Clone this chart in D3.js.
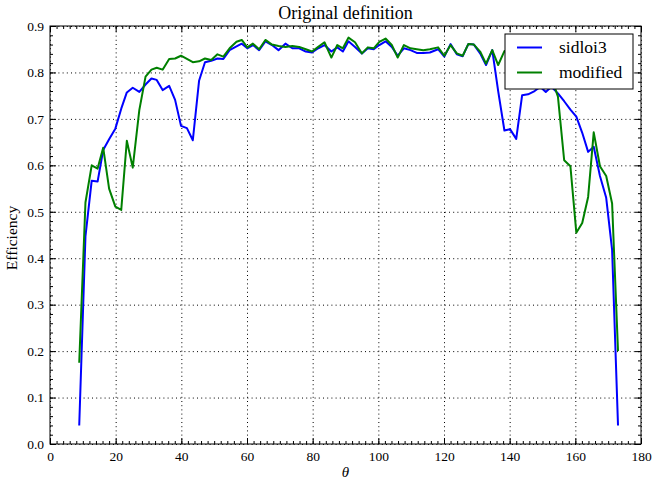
<!DOCTYPE html>
<html>
<head>
<meta charset="utf-8">
<script src="https://cdn.jsdelivr.net/npm/d3@7"></script>
<style>
  body { margin: 0; background: #fff; }
  text { font-family: "Liberation Serif", "DejaVu Serif", serif; fill: #000; }
  .grid line { stroke: #000; stroke-width: 1; stroke-dasharray: 1, 3.2; }
  .grid .domain { display: none; }
  .ejes .domain { display: none; }
  .ejes line { stroke: #000; }
</style>
</head>
<body>
<div id="graf"></div>
<script>
// datos
const theta = [8.9, 10.8, 12.7, 14.5, 16.2, 18.0, 19.9, 21.7, 23.4, 25.2,
  27.2, 29.1, 30.9, 32.5, 34.3, 36.3, 38.1, 39.9, 41.7, 43.5,
  45.4, 47.2, 49.1, 51.0, 52.8, 54.7, 56.8, 58.4, 60.1, 61.8,
  63.7, 65.6, 67.6, 69.6, 71.7, 73.8, 75.9, 77.9, 79.8, 81.7,
  83.6, 85.7, 87.5, 89.2, 90.9, 92.9, 95.0, 96.8, 98.6, 100.3,
  102.2, 104.1, 105.9, 107.8, 109.8, 111.7, 113.7, 115.7, 118.2, 120.1,
  122.0, 123.9, 125.7, 127.4, 129.1, 131.0, 132.8, 134.7, 136.5, 138.4,
  140.1, 142.0, 143.8, 145.6, 147.6, 149.3, 151.0, 152.7, 154.7, 156.6,
  158.5, 160.3, 162.1, 163.9, 165.6, 167.5, 169.4, 171.2, 173.0]

const sidloi3 = [0.04, 0.447, 0.567, 0.565, 0.633, 0.656, 0.679, 0.722, 0.757, 0.767,
  0.758, 0.774, 0.787, 0.784, 0.762, 0.771, 0.741, 0.685, 0.680, 0.654,
  0.782, 0.822, 0.825, 0.830, 0.829, 0.848, 0.856, 0.862, 0.852, 0.859,
  0.848, 0.867, 0.859, 0.848, 0.862, 0.852, 0.852, 0.845, 0.843, 0.852,
  0.859, 0.845, 0.854, 0.845, 0.867, 0.855, 0.841, 0.852, 0.850, 0.859,
  0.867, 0.855, 0.836, 0.852, 0.848, 0.842, 0.842, 0.843, 0.850, 0.834,
  0.861, 0.839, 0.835, 0.861, 0.860, 0.841, 0.816, 0.848, 0.760, 0.675,
  0.678, 0.657, 0.751, 0.753, 0.760, 0.769, 0.758, 0.769, 0.755, 0.738,
  0.720, 0.705, 0.670, 0.629, 0.640, 0.577, 0.530, 0.418, 0.04]

const modified = [0.175, 0.52, 0.600, 0.593, 0.638, 0.550, 0.511, 0.504, 0.653, 0.595,
  0.719, 0.791, 0.806, 0.810, 0.806, 0.829, 0.830, 0.836, 0.829, 0.822,
  0.824, 0.830, 0.827, 0.839, 0.834, 0.852, 0.866, 0.870, 0.854, 0.862,
  0.850, 0.870, 0.860, 0.857, 0.855, 0.857, 0.855, 0.850, 0.845, 0.855,
  0.865, 0.832, 0.859, 0.852, 0.875, 0.865, 0.841, 0.854, 0.852, 0.866,
  0.873, 0.859, 0.832, 0.859, 0.852, 0.850, 0.848, 0.850, 0.854, 0.836,
  0.859, 0.841, 0.836, 0.861, 0.860, 0.845, 0.819, 0.848, 0.816, 0.846,
  0.845, 0.850, 0.840, 0.845, 0.830, 0.815, 0.800, 0.790, 0.748, 0.611,
  0.598, 0.455, 0.476, 0.532, 0.671, 0.598, 0.577, 0.518, 0.20]

const series = ["sidloi3", "modified"]
const colores = ["#0000ff", "#008000"]
const xTicks = [0, 20, 40, 60, 80, 100, 120, 140, 160, 180]
const yTicks = [0.0, 0.1, 0.2, 0.3, 0.4, 0.5, 0.6, 0.7, 0.8, 0.9]

// dimensiones
const anchoTotal = 653
const altoTotal = 480
const margins = { left: 50, top: 26, right: 12, bottom: 36 }
const ancho = anchoTotal - margins.left - margins.right
const alto = altoTotal - margins.top - margins.bottom

const svg = d3.select("#graf")
  .append("svg")
  .attr("width", anchoTotal)
  .attr("height", altoTotal)

const g = svg.append("g")
  .attr("transform", `translate(${margins.left}, ${margins.top})`)

g.append("clipPath")
  .attr("id", "clip")
  .append("rect")
  .attr("width", ancho)
  .attr("height", alto)

const x = d3.scaleLinear().domain([0, 180]).range([0, ancho])
const y = d3.scaleLinear().domain([0, 0.9]).range([alto, 0])
const color = d3.scaleOrdinal().domain(series).range(colores)

// rejilla punteada
g.append("g")
  .attr("class", "grid")
  .attr("transform", `translate(0, ${alto})`)
  .call(d3.axisBottom(x).tickValues(xTicks).tickSize(-alto).tickFormat(""))
g.append("g")
  .attr("class", "grid")
  .call(d3.axisLeft(y).tickValues(yTicks).tickSize(-ancho).tickFormat(""))

// lineas
const linea = (vals) => d3.line()
  .x((d, i) => x(theta[i]))
  .y((d) => y(d))(vals)

const datos = [sidloi3, modified]
g.selectAll("path.serie")
  .data(datos)
  .enter()
  .append("path")
  .attr("class", "serie")
  .attr("d", (d) => linea(d))
  .attr("fill", "none")
  .attr("stroke", (d, i) => color(series[i]))
  .attr("stroke-width", 2)
  .attr("stroke-linejoin", "round")
  .attr("clip-path", "url(#clip)")

// ejes con ticks hacia adentro
const xMinor = d3.range(0, 181, 2)
const yMinor = d3.range(0, 0.9001, 0.02)

g.append("g").attr("class", "ejes")
  .attr("transform", `translate(0, ${alto})`)
  .call(d3.axisBottom(x).tickValues(xMinor).tickSizeInner(-3).tickFormat(""))
g.append("g").attr("class", "ejes")
  .call(d3.axisTop(x).tickValues(xMinor).tickSizeInner(-3).tickFormat(""))
g.append("g").attr("class", "ejes")
  .call(d3.axisLeft(y).tickValues(yMinor).tickSizeInner(-3).tickFormat(""))
g.append("g").attr("class", "ejes")
  .attr("transform", `translate(${ancho}, 0)`)
  .call(d3.axisRight(y).tickValues(yMinor).tickSizeInner(-3).tickFormat(""))

g.append("g").attr("class", "ejes")
  .attr("transform", `translate(0, ${alto})`)
  .call(d3.axisBottom(x).tickValues(xTicks).tickSizeInner(-6).tickPadding(7).tickFormat(d3.format("d")))
  .selectAll("text").style("font-size", "13.5px")
g.append("g").attr("class", "ejes")
  .call(d3.axisTop(x).tickValues(xTicks).tickSizeInner(-6).tickFormat(""))
g.append("g").attr("class", "ejes")
  .call(d3.axisLeft(y).tickValues(yTicks).tickSizeInner(-6).tickPadding(6).tickFormat(d3.format(".1f")))
  .selectAll("text").style("font-size", "13.5px")
g.append("g").attr("class", "ejes")
  .attr("transform", `translate(${ancho}, 0)`)
  .call(d3.axisRight(y).tickValues(yTicks).tickSizeInner(-6).tickFormat(""))

// marco
g.append("rect")
  .attr("width", ancho)
  .attr("height", alto)
  .attr("fill", "none")
  .attr("stroke", "#000")
  .attr("stroke-width", 1)

// textos
g.append("text")
  .attr("x", ancho / 2)
  .attr("y", -7)
  .attr("text-anchor", "middle")
  .style("font-size", "18px")
  .text("Original definition")

g.append("text")
  .attr("x", ancho / 2)
  .attr("y", alto + 33)
  .attr("text-anchor", "middle")
  .style("font-size", "15px")
  .style("font-style", "italic")
  .text("θ")

g.append("text")
  .attr("transform", `translate(-33, ${alto / 2 + 3}) rotate(-90)`)
  .attr("text-anchor", "middle")
  .style("font-size", "15.5px")
  .text("Efficiency")

// leyenda
const leyenda = g.append("g")
  .attr("transform", `translate(${ancho - 136}, 8)`)

leyenda.append("rect")
  .attr("width", 128)
  .attr("height", 55)
  .attr("fill", "#fff")
  .attr("stroke", "#000")
  .attr("stroke-width", 1)

series.forEach((s, i) => {
  leyenda.append("line")
    .attr("x1", 12).attr("x2", 37)
    .attr("y1", 13.5 + i * 25).attr("y2", 13.5 + i * 25)
    .attr("stroke", color(s))
    .attr("stroke-width", 2)
  leyenda.append("text")
    .attr("x", 54)
    .attr("y", 19 + i * 25)
    .style("font-size", "17.5px")
    .text(s)
})
</script>
</body>
</html>
